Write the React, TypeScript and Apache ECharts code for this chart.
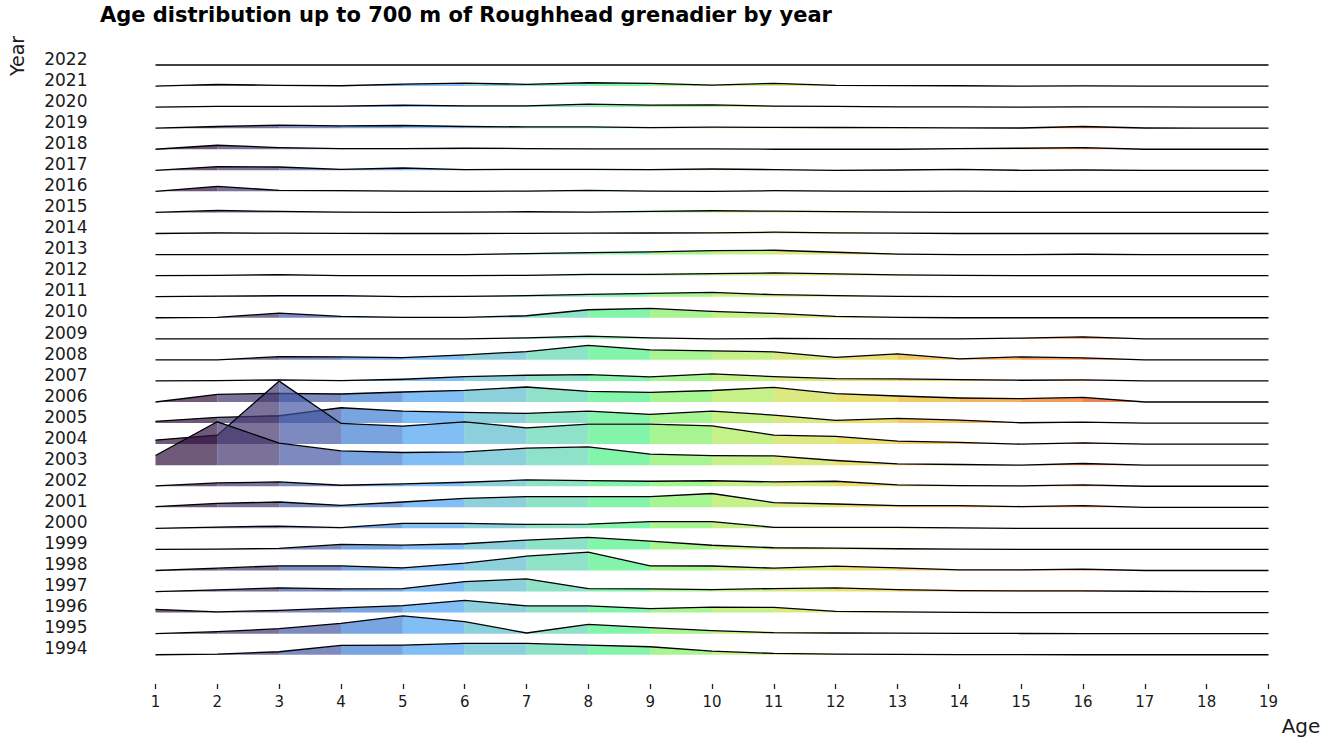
import { useEffect, useRef } from "react";
import * as echarts from "echarts";

// Ages (x axis)
const ages = [1, 2, 3, 4, 5, 6, 7, 8, 9, 10, 11, 12, 13, 14, 15, 16, 17, 18, 19];
// Years (ridges, bottom to top)
const years = [1994, 1995, 1996, 1997, 1998, 1999, 2000, 2001, 2002, 2003, 2004, 2005, 2006, 2007, 2008, 2009, 2010, 2011, 2012, 2013, 2014, 2015, 2016, 2017, 2018, 2019, 2020, 2021, 2022];

// Relative abundance by age (ages 1..19), arbitrary units
const y1994 = [0, 0.7, 3, 9.3, 9.7, 11.3, 11.3, 9.7, 8, 3.7, 1.3, 0.7, 0.3, 0.2, 0.1, 0, 0, 0, 0];
const y1995 = [0, 2, 5, 10.3, 17.7, 12, 0.7, 9.3, 6, 3, 1, 0.7, 0.5, 0.3, 0.2, 0, 0, 0, 0];
const y1996 = [3.3, 0.7, 2.3, 4.7, 7, 12.3, 6.7, 6.7, 4, 5.5, 5.3, 1.3, 0.7, 0.3, 0, 0, 0, 0, 0];
const y1997 = [0, 1.7, 3.7, 2.7, 3, 10, 12.7, 3, 2.7, 2, 3, 3.7, 2, 1, 0.7, 0.7, 0.3, 0, 0];
const y1998 = [0, 2.3, 4.7, 4.7, 2.7, 7.3, 14.3, 18.3, 4.7, 4.5, 2.3, 4.3, 2.7, 0.7, 0.7, 1.3, 0, 0, 0];
const y1999 = [0, 0.3, 1, 5, 4.3, 5.7, 9.3, 12, 8.3, 4.2, 1.7, 1.3, 0.7, 0.3, 0, 0, 0, 0, 0];
const y2000 = [0, 1.3, 2.3, 0.7, 5, 5, 4, 4.3, 6.7, 6.8, 1, 1, 1, 0.5, 0, 0, 0, 0, 0];
const y2001 = [0.7, 4, 5.3, 2, 5.3, 9, 10.7, 10.7, 10.7, 13.8, 4.7, 3.3, 1.7, 1.7, 0.7, 1.7, 0, 0, 0];
const y2002 = [0.3, 3.3, 4.3, 1, 2.3, 4, 6.3, 5.7, 5, 5.5, 4.3, 5, 1.3, 0.7, 0.3, 1.3, 0, 0, 0];
const y2003 = [9.7, 43.4, 22, 14.3, 12.7, 13.3, 17, 18.3, 11, 9.5, 9.3, 4.7, 1.3, 0.7, 0, 1.7, 0, 0, 0];
const y2004 = [4, 9, 63, 20.7, 18, 22.3, 16.3, 20, 20, 18.2, 9, 7.7, 3, 1.7, 0, 1.3, 0, 0, 0];
const y2005 = [1.7, 5.7, 7.3, 15.3, 12, 10.7, 9.7, 12, 8.7, 12, 8, 2.7, 4.7, 3, 0.3, 1, 0, 0, 0];
const y2006 = [0, 7.7, 8.7, 8, 10, 11.7, 15, 10.7, 9.7, 11.5, 14.7, 8.3, 6, 4, 3.3, 4.7, 0, 0, 0];
const y2007 = [0, 0.3, 1, 0.3, 1.7, 4.3, 5.7, 6.3, 4, 7, 4.3, 2.3, 2, 1.3, 0.7, 1, 0, 0, 0];
const y2008 = [0, 0, 3.3, 3, 2.3, 5, 8.3, 14.5, 10, 9, 8, 2.5, 6, 1, 3, 2, 0, 0, 0];
const y2009 = [0, 0, 0, 0, 0, 0, 1, 2.7, 1, 0, 0.3, 0.2, 0, 0, 0.7, 2, 0, 0, 0];
const y2010 = [0, 0.3, 4.7, 1.3, 0.3, 0.3, 2, 8, 9.3, 6.3, 4.3, 1.3, 0.3, 0, 0, 0, 0, 0, 0];
const y2011 = [0, 0.5, 1, 1, 0, 0.3, 1, 2.3, 3.3, 4.3, 2, 1, 0.3, 0, 0, 0, 0, 0, 0];
const y2012 = [0, 0.3, 1, 0, 0, 0, 0.3, 1.3, 1.3, 2, 2.7, 1.7, 0.7, 0.2, 0, 0, 0, 0, 0];
const y2013 = [0, 0, 0, 0, 0, 0, 1, 2, 2.7, 4, 4.3, 2.3, 0.5, 0, 0, 0.3, 0, 0, 0];
const y2014 = [0, 0.7, 0.3, 0.2, 0, 0, 0.2, 0.3, 0.5, 0.7, 1.3, 0.7, 0.3, 0, 0, 0, 0, 0, 0];
const y2015 = [0, 2, 1, 0.3, 0, 0.3, 0.7, 0.3, 1, 1.7, 1.3, 0.8, 0.3, 0, 0, 0, 0, 0, 0];
const y2016 = [0, 5, 1, 0.7, 0.3, 0, 0.3, 1, 0.3, 0, 0.7, 0.3, 0, 0.2, 0, 0, 0, 0, 0];
const y2017 = [0, 3.7, 3.3, 1, 2.3, 0.7, 1, 1, 0.7, 1.3, 0.7, 0, 0.3, 1, 0, 0.3, 0, 0, 0];
const y2018 = [0, 4, 1.7, 0.7, 0.7, 1, 0.7, 0.3, 0.3, 0.3, 0, 0, 0, 0.7, 1, 1.7, 0, 0, 0];
const y2019 = [0, 1.7, 3, 2.3, 2.7, 1.7, 1.3, 1.3, 0.5, 1, 0.8, 0.7, 0.5, 0.3, 0.2, 1.7, 0.2, 0, 0];
const y2020 = [0, 0.7, 0.7, 1, 2, 1.3, 1.3, 3, 2, 2.3, 1, 0.7, 0.3, 0.2, 0, 0.3, 0.2, 0, 0];
const y2021 = [0, 1.7, 0.7, 0.3, 2, 3, 1.7, 3.3, 2.7, 1, 2.7, 0.7, 0.5, 0.3, 0, 0.2, 0, 0, 0];
const y2022 = [0, 0, 0, 0, 0, 0, 0, 0, 0, 0, 0, 0, 0, 0, 0, 0, 0, 0, 0];

const rows = [y1994, y1995, y1996, y1997, y1998, y1999, y2000, y2001, y2002, y2003, y2004, y2005, y2006, y2007, y2008, y2009, y2010, y2011, y2012, y2013, y2014, y2015, y2016, y2017, y2018, y2019, y2020, y2021, y2022];

// Colour of each age interval as seen on white (1-2, 2-3, ... 18-19)
const binColors = ["#6e5a78", "#7a7298", "#7d8abf", "#78a5e0", "#80bef5", "#8cd0dc", "#8ee2c8", "#84f5ac", "#a6f592", "#c6f088", "#dce980", "#ebdf72", "#f3c962", "#f5b25c", "#f49a5a", "#ef8258", "#e0654a", "#c8483a"];
const FILL_ALPHA = 0.7;
const RIDGE_SCALE = 1 / 21.06; // ridge rows per abundance unit

function toFill(hex: string): string {
  const r = parseInt(hex.slice(1, 3), 16);
  const g = parseInt(hex.slice(3, 5), 16);
  const b = parseInt(hex.slice(5, 7), 16);
  const f = (c: number) => Math.max(0, Math.min(255, Math.round(255 - (255 - c) / FILL_ALPHA)));
  return `rgba(${f(r)},${f(g)},${f(b)},${FILL_ALPHA})`;
}

const FONT = "DejaVu Sans";

export default function App() {
  const ref = useRef<HTMLDivElement>(null);
  useEffect(() => {
    if (!ref.current) return;
    const chart = echarts.init(ref.current, null, { renderer: "svg" });
    const fills = binColors.map(toFill);
    const data = years.map((_, i) => [ages[0], years.length - 1 - i]);
    chart.setOption({
      animation: false,
      backgroundColor: "#ffffff",
      title: {
        text: "Age distribution up to 700 m of Roughhead grenadier by year",
        left: 100,
        top: 4,
        padding: 0,
        textStyle: { fontFamily: FONT, fontWeight: "bold", fontSize: 21, color: "#000" },
      },
      grid: { left: 155.5, right: 74.5, top: 65, bottom: 66.2, outerBoundsMode: "none" },
      xAxis: {
        type: "value",
        min: 1,
        max: 19,
        interval: 1,
        offset: 8.2,
        axisLine: { show: false, onZero: false },
        axisTick: { show: true, length: 5, lineStyle: { color: "#222", width: 1.3 } },
        splitLine: { show: false },
        axisLabel: { fontFamily: FONT, fontSize: 15, color: "#1a1a1a", margin: 10 },
      },
      yAxis: {
        type: "value",
        min: -1,
        max: 28,
        interval: 1,
        axisLine: { show: false, onZero: false },
        axisTick: { show: false },
        splitLine: { show: false },
        axisLabel: {
          fontFamily: FONT,
          fontSize: 17,
          color: "#1a1a1a",
          margin: 68,
          verticalAlign: "bottom",
          lineHeight: 12.5,
          formatter: (v: number) => {
            const i = Math.round(v);
            return i >= 0 && i < years.length ? String(years[i]) : "";
          },
        },
      },
      graphic: [
        {
          type: "text",
          x: 1301,
          y: 726,
          style: { text: "Age", fontFamily: FONT, fontSize: 20, fill: "#1a1a1a", align: "center", verticalAlign: "middle" },
        },
        {
          type: "text",
          x: 17,
          y: 56,
          rotation: Math.PI / 2,
          style: { text: "Year", fontFamily: FONT, fontSize: 19, fill: "#1a1a1a", align: "center", verticalAlign: "middle" },
        },
      ],
      series: [
        {
          type: "custom",
          coordinateSystem: "cartesian2d",
          clip: false,
          data,
          renderItem: (_params: any, api: any) => {
            const yi = api.value(1) as number;
            const vals = rows[yi];
            const children: any[] = [];
            for (let j = 0; j < ages.length - 1; j++) {
              const a0 = ages[j];
              const a1 = ages[j + 1];
              const p0 = api.coord([a0, yi]);
              const p1 = api.coord([a1, yi]);
              const p2 = api.coord([a1, yi + vals[j + 1] * RIDGE_SCALE]);
              const p3 = api.coord([a0, yi + vals[j] * RIDGE_SCALE]);
              children.push({
                type: "polygon",
                shape: { points: [p0, p1, p2, p3] },
                style: { fill: fills[j] },
              });
            }
            children.push({
              type: "polyline",
              shape: { points: ages.map((a, k) => api.coord([a, yi + vals[k] * RIDGE_SCALE])) },
              style: { stroke: "#000", lineWidth: 1.3, fill: null },
            });
            return { type: "group", children };
          },
        },
      ],
    });
    return () => chart.dispose();
  }, []);
  return <div ref={ref} style={{ position: "fixed", left: 0, top: 0, width: 1343, height: 742 }} />;
}
